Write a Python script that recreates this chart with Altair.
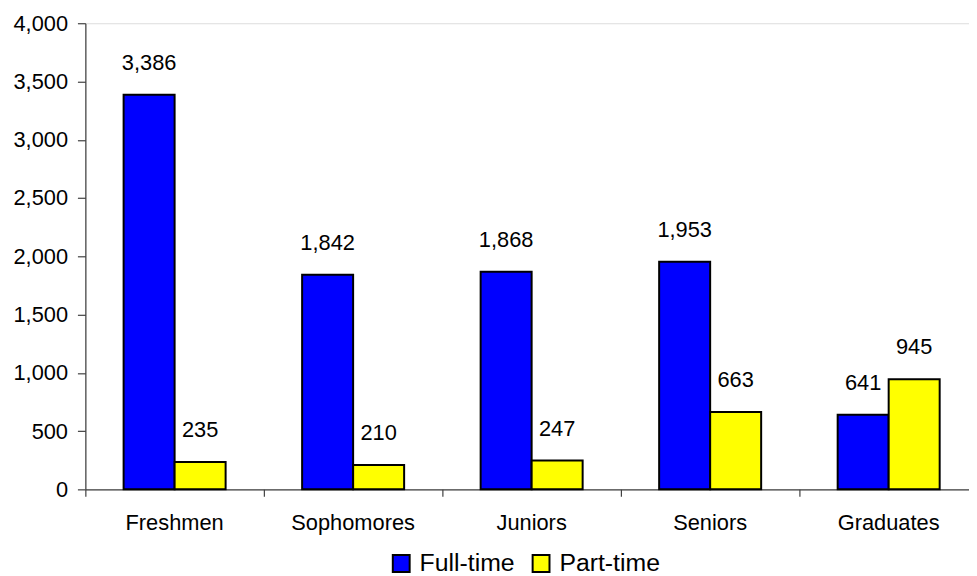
import altair as alt
import pandas as pd

categories = ["Freshmen", "Sophomores", "Juniors", "Seniors", "Graduates"]
full_time = [3386, 1842, 1868, 1953, 641]
part_time = [235, 210, 247, 663, 945]
series = ["Full-time", "Part-time"]
colors = ["#0000FF", "#FFFF00"]
y_ticks = [0, 500, 1000, 1500, 2000, 2500, 3000, 3500, 4000]

rows = []
for c, f, p in zip(categories, full_time, part_time):
    rows.append({"category": c, "status": series[0], "count": f})
    rows.append({"category": c, "status": series[1], "count": p})
df = pd.DataFrame(rows)

FONT = "Liberation Sans"
AXIS_COLOR = "#404040"

x = alt.X(
    "category:N",
    sort=categories,
    scale=alt.Scale(paddingInner=0, paddingOuter=0),
    axis=alt.Axis(
        title=None, labelAngle=0, bandPosition=0, tickSize=7, labelPadding=16,
        labelFontSize=22, labelFont=FONT, labelColor="black",
        domainColor=AXIS_COLOR, tickColor=AXIS_COLOR, domainWidth=1.2, tickWidth=1.2,
    ),
)
y = alt.Y(
    "count:Q",
    scale=alt.Scale(domain=[0, 4000], nice=False),
    axis=alt.Axis(
        title=None, values=y_ticks, format=",.0f", tickSize=8, labelPadding=10,
        grid=False, labelFontSize=22, labelFont=FONT, labelColor="black",
        domainColor=AXIS_COLOR, tickColor=AXIS_COLOR, domainWidth=1.2, tickWidth=1.2,
    ),
)
xo = alt.XOffset("status:N", sort=series, scale=alt.Scale(paddingInner=0, paddingOuter=0.75))

bars = alt.Chart(df).mark_bar(stroke="black", strokeWidth=2).encode(
    x=x, y=y, xOffset=xo,
    color=alt.Color(
        "status:N",
        sort=series,
        scale=alt.Scale(domain=series, range=colors),
        legend=alt.Legend(
            title=None, orient="none", legendX=306, legendY=532, direction="horizontal",
            symbolType="square", symbolSize=289, symbolStrokeColor="black",
            symbolStrokeWidth=2, labelFontSize=25, labelFont=FONT, labelColor="black",
            labelOffset=6, columnPadding=14,
        ),
    ),
)

labels = alt.Chart(df).mark_text(
    dy=-32, baseline="middle", align="center", fontSize=22, font=FONT, color="black"
).encode(
    x=x, y=y, xOffset=xo, text=alt.Text("count:Q", format=",")
)

chart = alt.layer(bars, labels).properties(
    width=900, height=470,
    autosize=alt.AutoSizeParams(type="none"),
    padding={"left": 78, "top": 13, "right": -9, "bottom": 85},
).configure_view(strokeWidth=0).configure(background="white")

chart.save("out.html", embed_options={"renderer": "svg", "actions": False})
